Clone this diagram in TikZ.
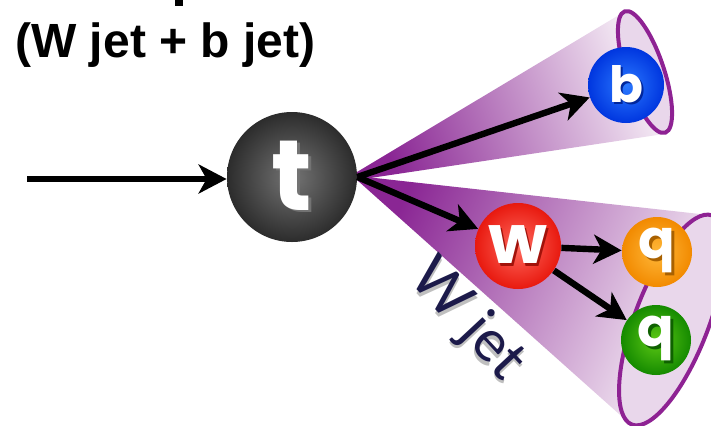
\documentclass[tikz,border=0pt]{standalone}
\usepackage{fontspec}
\setmainfont{Liberation Sans}
\newfontfamily\ballfont{Poppins}
\newfontfamily\jetfont{Lato}
\usetikzlibrary{arrows.meta}
\definecolor{jetpurple}{HTML}{8A2694}
\definecolor{jetlight}{HTML}{F6EEF6}
\definecolor{jetfill}{HTML}{E9D7EB}
\definecolor{jetrim}{HTML}{8E2293}
\definecolor{jetnavy}{HTML}{1C1A4A}
\definecolor{tgray}{HTML}{747474}
\definecolor{tdark}{HTML}{2C2C2C}
\definecolor{wred}{HTML}{FF6A5E}
\definecolor{wdark}{HTML}{E8190F}
\definecolor{bblue}{HTML}{2A78FF}
\definecolor{bdark}{HTML}{0036DF}
\definecolor{qorange}{HTML}{FFB83A}
\definecolor{qodark}{HTML}{F28A00}
\definecolor{qgreen}{HTML}{5CC815}
\definecolor{qgdark}{HTML}{158A00}
\newcommand{\ballletter}[2]{\makebox[0pt][l]{\kern1.2pt\raisebox{-1.2pt}{\textcolor{#1}{#2}}}#2}

\begin{document}
\begin{tikzpicture}[x=0.5pt, y=0.5pt,
    particle/.style 2 args={circle, inner sep=0pt, inner color=#1, outer color=#2,
      text=white, font=\ballfont\bfseries},
    decay/.style={line width=3.2pt, -{Stealth[length=14pt, width=14.5pt, inset=4pt]}},
    jetcone/.style={left color=jetpurple, right color=jetlight},
    jetedge/.style={draw=jetrim, fill=jetfill, line width=2pt}]
  \useasboundingbox (0,0) rectangle (711,425);
  % cones and jet rims
  \shade[jetcone, shading angle=110] (357,253) -- (624,413) -- (664,291) -- (357,245) -- cycle;
  \draw[jetedge, rotate around={-71.6:(645,353)}] (645,353) ellipse [x radius=64, y radius=19];
  \shade[jetcone, shading angle=66] (357,249) -- (709,210) -- (628,3) -- (357,245) -- cycle;
  \draw[jetedge, rotate around={69:(672,105)}] (672,105) ellipse [x radius=112, y radius=37];

  \node[anchor=base west, inner sep=0pt, font=\bfseries\fontsize{24}{28}\selectfont] (title) at (15,368)
    {(W jet + b jet)};
  \fill (175,425) rectangle (183,419);

  \node[particle={tgray}{tdark}, minimum size=65pt, font=\ballfont\bfseries\fontsize{50}{50}\selectfont]
    (t) at (292,248) {\ballletter{black!55}{t}};
  \node[particle={bblue}{bdark}, minimum size=38pt, font=\ballfont\bfseries\fontsize{25}{25}\selectfont]
    (b) at (626,340) {\ballletter{bdark!70!black}{b}};
  \node[particle={wred}{wdark}, minimum size=43pt, font=\ballfont\bfseries\fontsize{34}{34}\selectfont]
    (w) at (518,179) {\ballletter{wdark!70!black}{w}};
  \node[particle={qorange}{qodark}, minimum size=35pt, font=\ballfont\bfseries\fontsize{27}{27}\selectfont]
    (q1) at (657,173) {\ballletter{qodark!70!black}{q}};
  \node[particle={qgreen}{qgdark}, minimum size=35pt, font=\ballfont\bfseries\fontsize{27}{27}\selectfont]
    (q2) at (656,85) {\ballletter{qgdark!70!black}{q}};

  \node[rotate=-47, text=jetnavy, font=\jetfont\fontsize{29}{29}\selectfont] (wjet) at (466,104)
    {\ballletter{black!25}{W jet}};

  \coordinate (tin) at (27,246);
  \draw[decay] (tin) -- (tin -| t.west);
  \draw[decay] (t.east) -- (b);
  \draw[decay] (t.east) -- (w);
  \draw[decay] (w) -- (q1);
  \draw[decay] (w) -- (q2);
\end{tikzpicture}
\end{document}
